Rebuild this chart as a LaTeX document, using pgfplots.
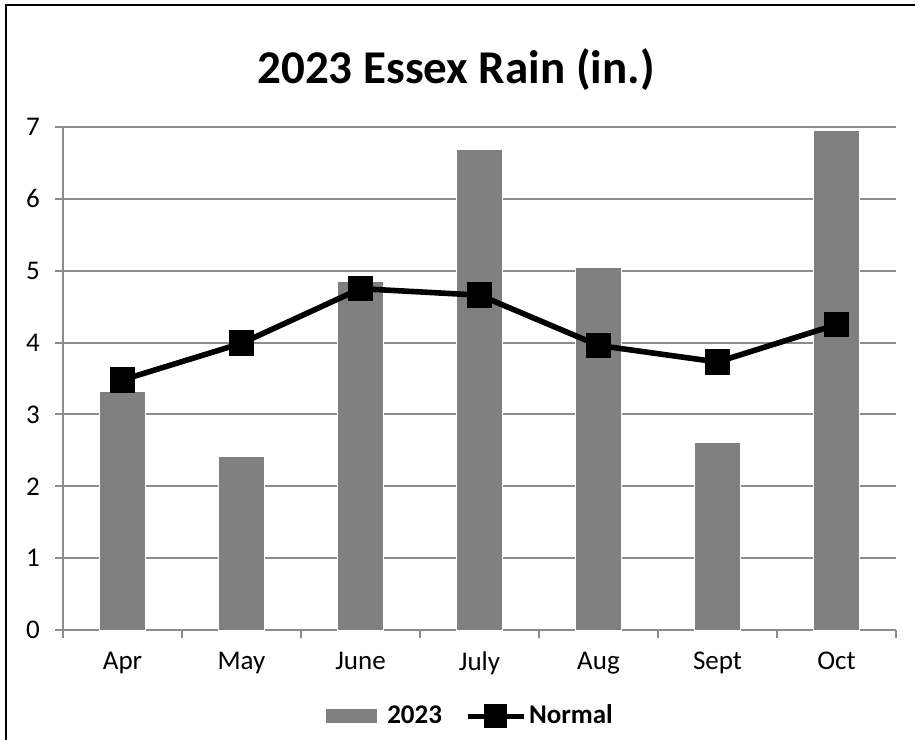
\documentclass[border=0pt]{standalone}
\usepackage{pgfplots}
\pgfplotsset{compat=1.18}
\usepackage{fontspec}
\setmainfont{Carlito}
\definecolor{bargray}{HTML}{808080}
\definecolor{gridgray}{HTML}{8C8C8C}
\begin{document}
\begin{tikzpicture}
\useasboundingbox (0,0) rectangle (457.5pt,-369.5pt);
\draw[line width=1pt,black] (3pt,-372pt) -- (3pt,-2.5pt) -- (460pt,-2.5pt);
\node[font=\fontsize{23.5}{27}\selectfont\bfseries] at (228pt,-35pt) {2023 Essex Rain (in.)};
\begin{axis}[
  at={(31.5pt,-315pt)}, anchor=south west,
  scale only axis, width=416.5pt, height=251.5pt,
  xmin=-0.5, xmax=6.5, ymin=0, ymax=7,
  axis lines*=left,
  axis line style={draw=gridgray, line width=1pt},
  xtick={-0.5,0.5,...,6.5},
  x tick label as interval,
  xticklabels={Apr,May,June,July,Aug,Sept,Oct},
  ytick={0,1,...,7},
  tick align=outside,
  major tick length=4pt,
  tick style={draw=gridgray, line width=1pt},
  ymajorgrids,
  grid style={draw=gridgray, line width=1pt},
  ticklabel style={font=\fontsize{13.5}{16}\selectfont, text=black},
  /pgf/number format/assume math mode=true,
  xticklabel style={yshift=-3.5pt},
  yticklabel style={xshift=-4pt},
  legend style={at={(0.49,-0.171)}, anchor=center, draw=none, legend columns=2,
    font=\fontsize{13.5}{16}\selectfont\bfseries, fill=none,
    nodes={inner xsep=1.5pt},
    /tikz/every even column/.append style={column sep=10pt}},
  legend cell align=left,
]
\addplot[ybar, bar width=23pt, fill=bargray, draw=white, line width=0.4pt, bar shift=0pt,
  legend image code/.code={\fill[bargray] (0pt,-3.25pt) rectangle (25pt,3.25pt); \path (28.5pt,0pt);}]
  coordinates {(0,3.32) (1,2.42) (2,4.85) (3,6.69) (4,5.05) (5,2.61) (6,6.95)};
\addlegendentry{2023}
\addplot[black, line width=2.8pt, mark=square*, mark size=5pt,
  legend image code/.code={\draw[black, line width=2.5pt] (0pt,0pt) -- (28pt,0pt);
    \fill[black] (9.5pt,-4.5pt) rectangle (18.5pt,4.5pt);}]
  coordinates {(0,3.48) (1,3.99) (2,4.75) (3,4.66) (4,3.96) (5,3.73) (6,4.25)};
\addlegendentry{Normal}
\end{axis}
\end{tikzpicture}
\end{document}
